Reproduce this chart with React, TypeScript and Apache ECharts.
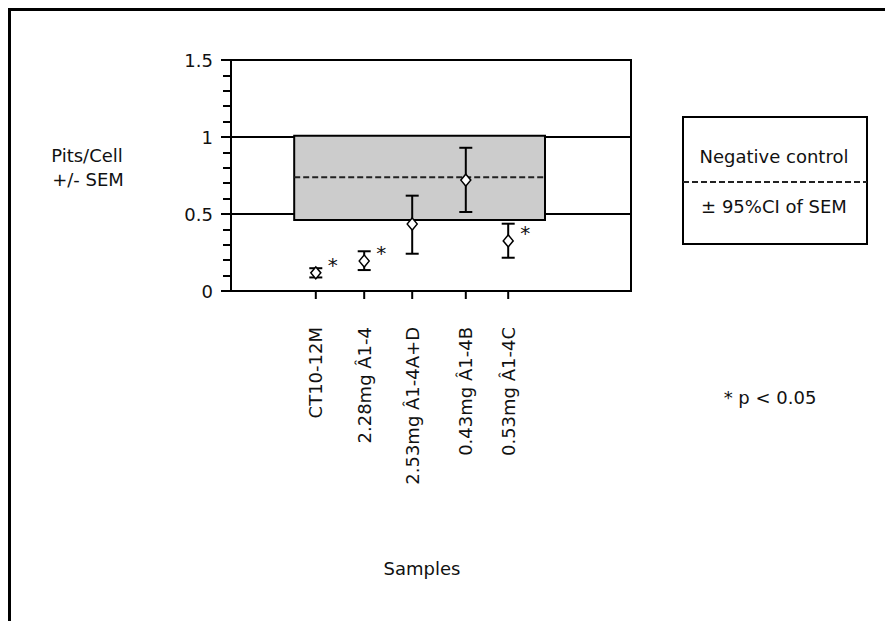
import React, { useEffect, useRef } from "react";
import * as echarts from "echarts";

// ---- data ----
const categories = ["CT10-12M", "2.28mg Â1-4", "2.53mg Â1-4A+D", "0.43mg Â1-4B", "0.53mg Â1-4C"];
const xPositions = [2.12, 3.33, 4.53, 5.87, 6.93];
const means = [0.118, 0.195, 0.435, 0.72, 0.325];
const lowerBounds = [0.088, 0.136, 0.242, 0.513, 0.216];
const upperBounds = [0.148, 0.258, 0.619, 0.93, 0.437];
const significant = [true, true, false, false, true];

// negative control band (mean, ±95% CI of SEM)
const controlMean = 0.738;
const controlLow = 0.461;
const controlHigh = 1.008;
const controlXStart = 1.58;
const controlXEnd = 7.85;

const yMin = 0;
const yMax = 1.5;
const yInterval = 0.5;

const FONT = "DejaVu Sans";
const TXT = "#111";

export default function App() {
  const ref = useRef<HTMLDivElement>(null);
  useEffect(() => {
    if (!ref.current) return;
    const chart = echarts.init(ref.current, null, { renderer: "svg" });

    const pointData = xPositions.map((x, i) => [x, means[i], lowerBounds[i], upperBounds[i], significant[i] ? 1 : 0]);

    const option: any = {
      animation: false,
      backgroundColor: "#fff",
      grid: {
        left: 231,
        top: 60,
        width: 400,
        height: 231,
        show: true,
        borderColor: "#000",
        borderWidth: 2,
        backgroundColor: "transparent",
        containLabel: false,
        outerBoundsMode: "none",
      },
      xAxis: {
        type: "value",
        min: 0,
        max: 10,
        axisLine: { show: true, lineStyle: { color: "#000", width: 2 } },
        axisTick: { show: false },
        axisLabel: { show: false },
        splitLine: { show: false },
      },
      yAxis: [
        {
          type: "value",
          position: "left",
          min: yMin,
          max: yMax,
          interval: yInterval,
          axisLine: { show: true, onZero: false, lineStyle: { color: "#000", width: 2 } },
          axisTick: { show: true, inside: false, length: 10, lineStyle: { color: "#000", width: 2 } },
          minorTick: { show: true, splitNumber: 5, length: 8, lineStyle: { color: "#000", width: 2 } },
          axisLabel: {
            show: true,
            margin: 18,
            fontFamily: FONT,
            fontSize: 18,
            color: TXT,
            formatter: (v: number) => String(v),
          },
          splitLine: { show: true, lineStyle: { color: "#000", width: 2 } },
        },
        {
          type: "value",
          position: "left",
          offset: 0,
          min: yMin,
          max: yMax,
          interval: yInterval,
          axisLine: { show: false },
          axisTick: { show: true, inside: true, length: 9, lineStyle: { color: "#000", width: 2 } },
          axisLabel: { show: false },
          splitLine: { show: false },
        },
      ],
      series: [
        {
          type: "custom",
          name: "control",
          z: 1,
          data: [[controlXStart, controlXEnd, controlLow, controlHigh, controlMean]],
          renderItem: (params: any, api: any) => {
            const p0 = api.coord([api.value(0), api.value(3)]);
            const p1 = api.coord([api.value(1), api.value(2)]);
            const pm0 = api.coord([api.value(0), api.value(4)]);
            const pm1 = api.coord([api.value(1), api.value(4)]);
            return {
              type: "group",
              children: [
                {
                  type: "rect",
                  shape: { x: p0[0], y: p0[1], width: p1[0] - p0[0], height: p1[1] - p0[1] },
                  style: { fill: "#cccccc", stroke: "#000", lineWidth: 2 },
                },
                {
                  type: "line",
                  shape: { x1: pm0[0], y1: pm0[1], x2: pm1[0], y2: pm1[1] },
                  style: { stroke: "#222", lineWidth: 2, lineDash: [6, 3] },
                },
              ],
            };
          },
        },
        {
          type: "custom",
          name: "errors",
          z: 3,
          data: pointData,
          renderItem: (params: any, api: any) => {
            const lo = api.coord([api.value(0), api.value(2)]);
            const hi = api.coord([api.value(0), api.value(3)]);
            const cap = 6.5;
            const st = { stroke: "#000", lineWidth: 2 };
            return {
              type: "group",
              children: [
                { type: "line", shape: { x1: lo[0], y1: lo[1], x2: hi[0], y2: hi[1] }, style: st },
                { type: "line", shape: { x1: lo[0] - cap, y1: lo[1], x2: lo[0] + cap, y2: lo[1] }, style: st },
                { type: "line", shape: { x1: hi[0] - cap, y1: hi[1], x2: hi[0] + cap, y2: hi[1] }, style: st },
              ],
            };
          },
        },
        {
          type: "scatter",
          name: "means",
          z: 4,
          data: pointData.map((d) => [d[0], d[1]]),
          symbol: "diamond",
          symbolSize: [10, 12],
          itemStyle: { color: "#fff", borderColor: "#000", borderWidth: 1.5, opacity: 1 },
        },
        {
          type: "custom",
          name: "asterisks",
          z: 5,
          data: pointData.filter((d) => d[4] === 1),
          renderItem: (params: any, api: any) => {
            const p = api.coord([api.value(0), api.value(1)]);
            return {
              type: "text",
              x: p[0] + 17,
              y: p[1] - 8,
              style: { text: "*", fontFamily: FONT, fontSize: 20, fill: TXT, align: "center", verticalAlign: "middle" },
            };
          },
        },
        {
          type: "custom",
          name: "xlabels",
          z: 5,
          clip: false,
          data: xPositions.map((x, i) => [x, 0, i]),
          renderItem: (params: any, api: any) => {
            const p = api.coord([api.value(0), api.value(1)]);
            const idx = api.value(2);
            return {
              type: "group",
              children: [
                {
                  type: "line",
                  shape: { x1: p[0], y1: p[1], x2: p[0], y2: p[1] + 8 },
                  style: { stroke: "#000", lineWidth: 2 },
                },
                {
                  type: "text",
                  x: p[0],
                  y: p[1] + 36,
                  rotation: Math.PI / 2,
                  style: {
                    text: categories[idx],
                    fontFamily: FONT,
                    fontSize: 18,
                    fill: TXT,
                    align: "right",
                    verticalAlign: "middle",
                  },
                },
              ],
            };
          },
        },
      ],
      graphic: [
        // outer frame (top and left edges visible)
        { type: "line", shape: { x1: 8, y1: 9.5, x2: 885, y2: 9.5 }, style: { stroke: "#000", lineWidth: 3 } },
        { type: "line", shape: { x1: 9.5, y1: 8, x2: 9.5, y2: 621 }, style: { stroke: "#000", lineWidth: 3 } },
        // y axis title
        { type: "text", x: 87, y: 155, style: { text: "Pits/Cell", fontFamily: FONT, fontSize: 18, fill: TXT, align: "center", verticalAlign: "middle" } },
        { type: "text", x: 88, y: 179, style: { text: "+/- SEM", fontFamily: FONT, fontSize: 18, fill: TXT, align: "center", verticalAlign: "middle" } },
        // x axis title
        { type: "text", x: 422, y: 568, style: { text: "Samples", fontFamily: FONT, fontSize: 18, fill: TXT, align: "center", verticalAlign: "middle" } },
        // legend box
        { type: "rect", shape: { x: 683, y: 117, width: 184, height: 127 }, style: { fill: "#fff", stroke: "#000", lineWidth: 2 } },
        { type: "line", shape: { x1: 683, y1: 182, x2: 867, y2: 182 }, style: { stroke: "#222", lineWidth: 2, lineDash: [6, 3] } },
        { type: "text", x: 774, y: 156, style: { text: "Negative control", fontFamily: FONT, fontSize: 18, fill: TXT, align: "center", verticalAlign: "middle" } },
        { type: "text", x: 774, y: 206, style: { text: "± 95%CI of SEM", fontFamily: FONT, fontSize: 18, fill: TXT, align: "center", verticalAlign: "middle" } },
        // significance note
        { type: "text", x: 770, y: 397, style: { text: "* p < 0.05", fontFamily: FONT, fontSize: 18, fill: TXT, align: "center", verticalAlign: "middle" } },
      ],
    };

    chart.setOption(option);
    return () => chart.dispose();
  }, []);

  return (
    <div
      ref={ref}
      style={{ position: "fixed", left: 0, top: 0, width: 885, height: 621, background: "#fff" }}
    />
  );
}
